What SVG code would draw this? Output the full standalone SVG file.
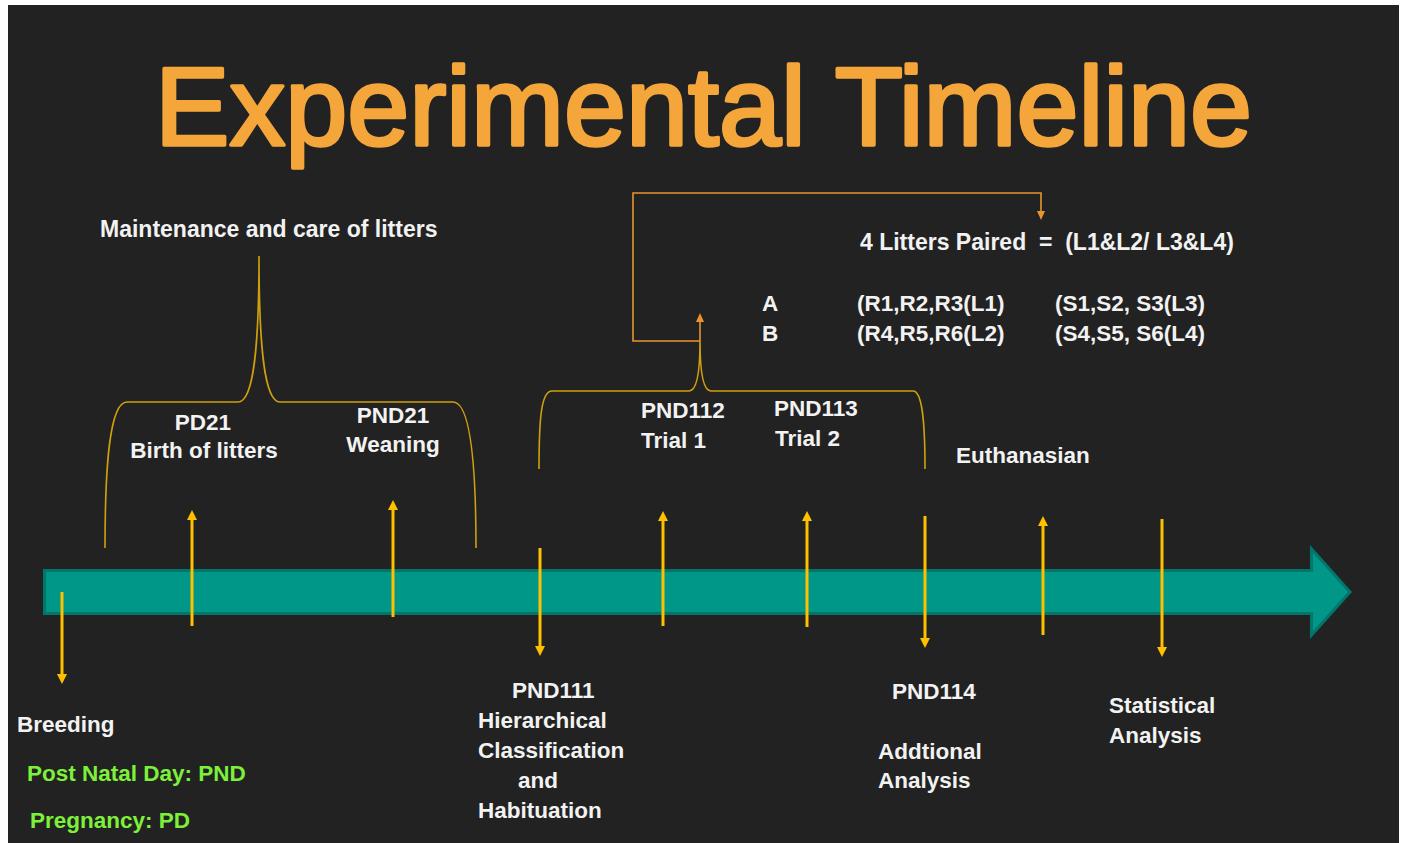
<svg xmlns="http://www.w3.org/2000/svg" width="1406" height="843" viewBox="0 0 1406 843">
<style>
.t{font-family:"Liberation Sans",Arial,sans-serif;font-weight:bold;font-size:22.5px;fill:#F2F2F2;white-space:pre}
.l{font-size:23px}
.g{fill:#7DF03A}
.ya{stroke:#FFC000;stroke-width:3;fill:none}
.br{stroke:#CFA00E;stroke-width:1.6;fill:none}
.oc{stroke:#E8952E;stroke-width:1.6;fill:none}
</style>
<defs>
<marker id="ya" markerUnits="userSpaceOnUse" markerWidth="12" markerHeight="12" refX="1" refY="5" orient="auto">
<path d="M0,0 L10,5 L0,10 z" fill="#FFC000"/>
</marker>
<marker id="oa" markerUnits="userSpaceOnUse" markerWidth="10" markerHeight="10" refX="1" refY="4" orient="auto">
<path d="M0,0 L9,4 L0,8 z" fill="#E8952E"/>
</marker>
</defs>
<rect x="0" y="0" width="1406" height="843" fill="#FFFFFF"/>
<rect x="8" y="5" width="1391" height="838" fill="#222222"/>
<g id="title">
<text x="155" y="145" textLength="1097" lengthAdjust="spacingAndGlyphs" style="font-family:'Liberation Sans',Arial,sans-serif;font-size:112px;fill:#F5A63B;stroke:#F5A63B;stroke-width:3.5;stroke-linejoin:round">Experimental Timeline</text>
</g>
<g id="timeline">
<polygon points="44.5,570.5 1311.5,570.5 1311.5,549 1350,592 1311.5,635 1311.5,613.5 44.5,613.5" fill="#009688" stroke="#00776A" stroke-width="3" stroke-linejoin="miter"/>
</g>
<g id="connectors">
<path class="br" d="M105,548 C105,470 109,402 127,402 L238,402 C254,402 259,345 259,256 C259,345 264,402 280,402 L453,402 C471,402 476,470 476,548"/>
<path class="br" d="M539,469 C539,420 541,391 552,391 L689,391 C697,391 700,370 700,341 C700,370 703,391 711,391 L913,391 C922,391 925,420 925,469"/>
<polyline class="oc" points="700,341 633,341 633,193 1041,193 1041,212" marker-end="url(#oa)"/>
<line class="oc" x1="700" y1="341" x2="700" y2="321" marker-end="url(#oa)"/>
<line class="ya" x1="62" y1="592" x2="62" y2="675" marker-end="url(#ya)"/>
<line class="ya" x1="192" y1="626" x2="192" y2="519" marker-end="url(#ya)"/>
<line class="ya" x1="393" y1="617" x2="393" y2="509" marker-end="url(#ya)"/>
<line class="ya" x1="540" y1="548" x2="540" y2="647" marker-end="url(#ya)"/>
<line class="ya" x1="663" y1="626" x2="663" y2="520" marker-end="url(#ya)"/>
<line class="ya" x1="807" y1="627" x2="807" y2="520" marker-end="url(#ya)"/>
<line class="ya" x1="925" y1="516" x2="925" y2="639" marker-end="url(#ya)"/>
<line class="ya" x1="1043" y1="635" x2="1043" y2="525" marker-end="url(#ya)"/>
<line class="ya" x1="1162" y1="519" x2="1162" y2="648" marker-end="url(#ya)"/>
</g>
<g id="maintenance"><text class="t l" x="100" y="237">Maintenance and care of litters</text></g>
<g id="pd21"><text class="t" x="203" y="430" text-anchor="middle">PD21</text><text class="t" x="204" y="458" text-anchor="middle">Birth of litters</text></g>
<g id="pnd21"><text class="t" x="393" y="423" text-anchor="middle">PND21</text><text class="t" x="393" y="452" text-anchor="middle">Weaning</text></g>
<g id="pnd112"><text class="t" x="641" y="418">PND112</text><text class="t" x="641" y="448">Trial 1</text></g>
<g id="pnd113"><text class="t" x="774" y="416">PND113</text><text class="t" x="775" y="446">Trial 2</text></g>
<g id="euth"><text class="t" x="956" y="463">Euthanasian</text></g>
<g id="paired">
<text class="t l" x="860" y="250">4 Litters Paired  =  (L1&amp;L2/ L3&amp;L4)</text>
<text class="t" x="762" y="311">A</text><text class="t" x="857" y="311">(R1,R2,R3(L1)</text><text class="t" x="1055" y="311">(S1,S2, S3(L3)</text>
<text class="t" x="762" y="341">B</text><text class="t" x="857" y="341">(R4,R5,R6(L2)</text><text class="t" x="1055" y="341">(S4,S5, S6(L4)</text>
</g>
<g id="breeding"><text class="t" x="17" y="732">Breeding</text></g>
<g id="legend"><text class="t g" x="27" y="781">Post Natal Day: PND</text><text class="t g" x="30" y="828">Pregnancy: PD</text></g>
<g id="pnd111">
<text class="t" x="512" y="698">PND111</text>
<text class="t" x="478" y="728">Hierarchical</text>
<text class="t" x="478" y="758">Classification</text>
<text class="t" x="518" y="788">and</text>
<text class="t" x="478" y="818">Habituation</text>
</g>
<g id="pnd114"><text class="t" x="892" y="699">PND114</text><text class="t" x="878" y="759">Addtional</text><text class="t" x="878" y="788">Analysis</text></g>
<g id="stats"><text class="t" x="1109" y="713">Statistical</text><text class="t" x="1109" y="743">Analysis</text></g>
</svg>
